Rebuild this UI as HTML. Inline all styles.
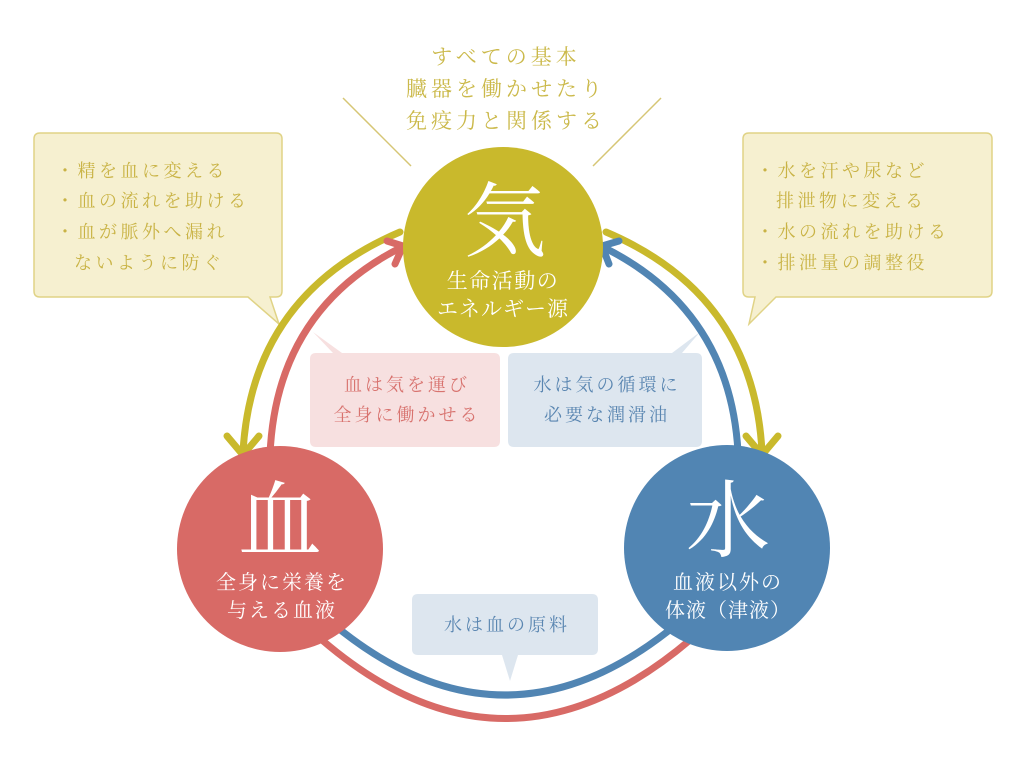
<!DOCTYPE html>
<html><head><meta charset="utf-8"><style>
html,body{margin:0;padding:0;background:#fff;}
svg{display:block;}
text{font-family:"Liberation Serif","Noto Serif CJK SC",serif;}
</style></head><body>
<svg width="1024" height="768" viewBox="0 0 1024 768" xmlns="http://www.w3.org/2000/svg">
<!-- top text -->
<g fill="#cbb94a" font-size="21" text-anchor="middle" letter-spacing="4">
<text x="506" y="64">すべての基本</text>
<text x="506" y="96">臓器を働かせたり</text>
<text x="506" y="128">免疫力と関係する</text>
</g>
<line x1="343" y1="98" x2="411" y2="166" stroke="#d6c675" stroke-width="1.5"/>
<line x1="661" y1="98" x2="593" y2="166" stroke="#d6c675" stroke-width="1.5"/>

<!-- left yellow box -->
<path d="M40 133 H276 Q282 133 282 139 V291 Q282 297 276 297 H270 L279 324 L248 297 H40 Q34 297 34 291 V139 Q34 133 40 133Z" fill="#f6f0d0" stroke="#e0d386" stroke-width="1.5"/>
<g fill="#c9b345" font-size="18" letter-spacing="3.5">
<text x="56" y="177">・精を血に変える</text>
<text x="56" y="207">・血の流れを助ける</text>
<text x="56" y="238">・血が脈外へ漏れ</text>
<text x="74" y="269">ないように防ぐ</text>
</g>
<!-- right yellow box -->
<path d="M749 133 H986 Q992 133 992 139 V291 Q992 297 986 297 H776 L749 324 L755 297 H749 Q743 297 743 291 V139 Q743 133 749 133Z" fill="#f6f0d0" stroke="#e0d386" stroke-width="1.5"/>
<g fill="#c9b345" font-size="18" letter-spacing="3.5">
<text x="756" y="177">・水を汗や尿など</text>
<text x="776" y="207">排泄物に変える</text>
<text x="756" y="238">・水の流れを助ける</text>
<text x="756" y="269">・排泄量の調整役</text>
</g>

<!-- pink box -->
<path d="M314 353 H333 L313 332 L342 353 H494 Q500 353 500 359 V441 Q500 447 494 447 H316 Q310 447 310 441 V359 Q310 353 316 353Z" fill="#f7e0e0"/>
<g fill="#d8736f" font-size="18" letter-spacing="3" text-anchor="middle">
<text x="407" y="391">血は気を運び</text>
<text x="407" y="421">全身に働かせる</text>
</g>
<!-- blue box -->
<path d="M514 353 H672 L700 332 L682 353 H696 Q702 353 702 359 V441 Q702 447 696 447 H514 Q508 447 508 441 V359 Q508 353 514 353Z" fill="#dde6ef"/>
<g fill="#5a86b1" font-size="18" letter-spacing="3" text-anchor="middle">
<text x="607" y="391">水は気の循環に</text>
<text x="607" y="421">必要な潤滑油</text>
</g>
<!-- bottom box -->
<path d="M418 594 H592 Q598 594 598 600 V649 Q598 655 592 655 H518 L510 681 L502 655 H418 Q412 655 412 649 V600 Q412 594 418 594Z" fill="#dde6ef"/>
<text x="507" y="631" fill="#5a86b1" font-size="18" letter-spacing="3" text-anchor="middle">水は血の原料</text>

<!-- connectors -->
<g fill="none" stroke-width="7" stroke-linecap="round" stroke-linejoin="round">
<path d="M400 232 Q252 295 243 452" stroke="#c9b92c"/>
<path d="M227 436 L243 455 L259 436" stroke="#c9b92c"/>
<path d="M606 232 Q754 295 762 452" stroke="#c9b92c"/>
<path d="M746 436 L762 455 L778 436" stroke="#c9b92c"/>
<path d="M270 455 Q276 310 402 247" stroke="#d86a66"/>
<path d="M387 241 L403 246 L395 264" stroke="#d86a66"/>
<path d="M738 452 Q730 310 603 247" stroke="#5185b3"/>
<path d="M609 264 L602 246 L619 241" stroke="#5185b3"/>
<path d="M338 628 Q505 762 672 628" stroke="#5185b3"/>
<path d="M322 640 Q505 797 690 640" stroke="#d86a66"/>
</g>

<!-- circles -->
<circle cx="503" cy="247" r="100" fill="#c9b92c"/>
<circle cx="280" cy="549" r="103" fill="#d86a66"/>
<circle cx="727" cy="548" r="103" fill="#5185b3"/>

<g fill="#fff" text-anchor="middle">
<text x="505" y="250" font-size="82">気</text>
<text x="503" y="288" font-size="21" letter-spacing="1.5">生命活動の</text>
<text x="503" y="316" font-size="21" letter-spacing="1">エネルギー源</text>
<text x="280" y="550" font-size="84">血</text>
<text x="282" y="589" font-size="20" letter-spacing="2">全身に栄養を</text>
<text x="282" y="617" font-size="20" letter-spacing="2">与える血液</text>
<text x="728" y="550" font-size="84">水</text>
<text x="728" y="589" font-size="20" letter-spacing="2">血液以外の</text>
<text x="728" y="617" font-size="20" letter-spacing="1">体液（津液）</text>
</g>
</svg>
</body></html>
